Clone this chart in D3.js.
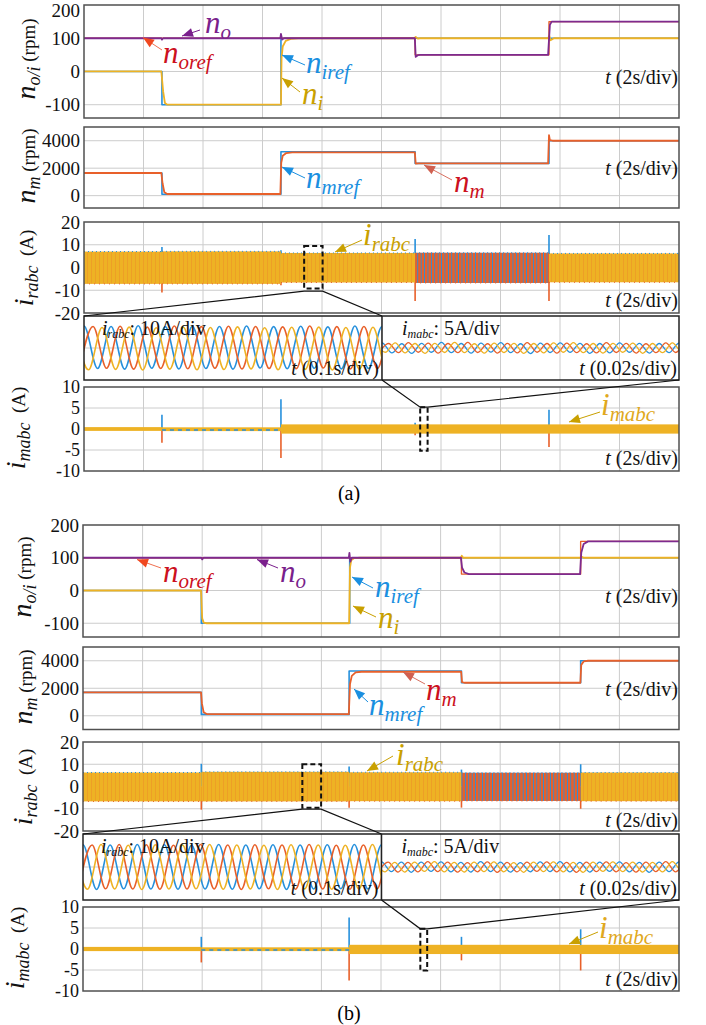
<!DOCTYPE html>
<html><head><meta charset="utf-8">
<script src="https://cdn.jsdelivr.net/npm/d3@7/dist/d3.min.js"></script>
<style>html,body{margin:0;padding:0;background:#fff}svg{display:block}
svg text{font-family:"Liberation Serif","Times New Roman","Nimbus Roman","DejaVu Serif","Noto Serif",serif}</style>
</head><body>
<svg id="chart" width="706" height="1025"></svg>
<script>
// ================= DATA =================
const tDomain=[0,20];
const tGrid=[2,4,6,8,10,12,14,16,18];
const speedTicks=[200,100,0,-100];
const motorTicks=[4000,2000,0];
const rotorTicks=[20,10,0,-10,-20];
const machTicks=[10,5,0,-5,-10];

// ---- (a) output / input speed (rpm) ----
const aNoRef=[[0,100],[11.13,100],[11.13,50],[15.63,50],[15.63,150],[20,150]];
const aNo=[[0,100],[2.6,100],[2.62,96],[2.66,100],[6.6,100],[6.62,113],[6.66,96],[6.72,100],[11.12,100],[11.15,44],[11.22,49],[11.3,50],[15.6,50],[15.66,140],[15.72,150],[20,150]];
const aNiRef=[[0,0],[2.62,0],[2.62,-100],[6.62,-100],[6.62,100],[20,100]];
const aNi=[[0,0],[2.6,0],[2.66,-60],[2.72,-95],[2.8,-100],[6.62,-100],[6.64,40],[6.68,75],[6.78,92],[6.95,98],[7.2,100],[11.1,100],[11.15,104],[11.22,99],[11.3,100],[15.6,100],[15.64,107],[15.68,94],[15.8,100],[20,100]];
// ---- (a) motor speed (rpm) ----
const aNmRef=[[0,1650],[2.62,1650],[2.62,100],[6.62,100],[6.62,3200],[11.13,3200],[11.13,2350],[15.63,2350],[15.63,4000],[20,4000]];
const aNm=[[0,1650],[2.6,1650],[2.64,900],[2.7,250],[2.8,120],[6.6,120],[6.63,2400],[6.68,2900],[6.8,3100],[7.0,3150],[11.12,3150],[11.15,2330],[11.25,2350],[15.6,2350],[15.63,4400],[15.66,4050],[15.75,4000],[20,4000]];
// ---- (a) rotor currents (A): [t0,t1,upper,lower] ----
const aIrEnv=[[0,2.62,7,-7.2],[2.62,6.62,7.1,-7.2],[6.62,11.13,6.4,-6.6],[15.63,20,6.2,-6.5]];
const aIrLow=[[11.13,15.63,6.5,-6.8]];
const aIrSpikes=[[2.62,9,-11],[6.62,7.6,-7.8],[11.13,12.5,-14.7],[15.63,14.3,-14.7]];
// ---- (a) machine currents (A) ----
const aImEnv=[[0,2.62,0.45,-0.45],[2.62,6.62,0.4,-0.5],[6.62,20,1.1,-1.1]];
const aImRipple=[[2.62,6.62,-0.25]];
const aImSpikes=[[2.62,3.4,-3.3],[6.62,7.1,-6.9],[11.13,1.5,-1.5],[15.63,4.6,-4.3]];

// ---- (b) ----
const bNoRef=[[0,100],[12.7,100],[12.7,50],[16.7,50],[16.7,150],[20,150]];
const bNo=[[0,100],[3.97,100],[4.0,95],[4.04,100],[8.92,100],[8.94,115],[8.97,88],[9.02,100],[12.68,100],[12.72,70],[12.8,55],[12.95,50],[16.68,50],[16.72,115],[16.8,142],[16.95,150],[20,150]];
const bNiRef=[[0,0],[3.97,0],[3.97,-100],[8.95,-100],[8.95,100],[20,100]];
const bNi=[[0,0],[3.96,0],[4.0,-85],[4.05,-98],[4.15,-100],[8.93,-100],[8.96,70],[9.0,92],[9.1,99],[9.3,100],[12.68,100],[12.71,106],[12.76,100],[16.68,100],[16.72,104],[16.8,100],[20,100]];
const bNmRef=[[0,1700],[3.97,1700],[3.97,100],[8.93,100],[8.93,3250],[12.7,3250],[12.7,2400],[16.7,2400],[16.7,4000],[20,4000]];
const bNm=[[0,1700],[3.96,1700],[3.99,900],[4.05,250],[4.15,120],[8.92,120],[8.96,2300],[9.02,2900],[9.15,3150],[9.35,3200],[12.69,3200],[12.72,2450],[12.8,2400],[16.69,2400],[16.72,3700],[16.8,3950],[16.95,4000],[20,4000]];
const bIrEnv=[[0,3.97,6.3,-6.7],[3.97,8.93,6.6,-6.7],[8.93,12.7,6.4,-6.6],[16.7,20,6.3,-6.6]];
const bIrLow=[[12.7,16.7,6.2,-6.5]];
const bIrSpikes=[[3.97,10.2,-10.4],[8.93,9,-9.5],[12.7,7.6,-9.5],[16.7,10,-10]];
const bImEnv=[[0,3.97,0.5,-0.5],[3.97,8.93,0.4,-0.5],[8.93,20,1.0,-1.2]];
const bImRipple=[[3.97,8.93,-0.25]];
const bImSpikes=[[3.97,2.9,-3.2],[8.93,7.5,-7.5],[12.7,2.9,-2.7],[16.7,4.7,-5.1]];

// ---- zoomed insets: successive half-cycle extrema (A) ----
const aLeftBlue=[-9.4,10.3,-9.6,10.1,-9.9,10.4,-9.5,10.0,-9.8,10.2,-9.6,10.1,-9.9,10.3,-9.4,10.0,-9.7,10.2,-9.5,9.9,-9.8,10.3,-9.6,10.1,-9.5];
const aLeftOrange=[-9.8,10.1,-9.5,10.2,-9.9,9.8,-9.6,10.3,-9.7,10.0,-9.5,10.2,-9.8,10.1,-9.6,9.9,-9.7,10.3,-9.4,10.0,-9.8,10.1,-9.6,10.2,-9.5];
const aLeftYellow=[9.9,-10.2,9.6,-10.0,9.8,-10.3,9.5,-9.9,9.7,-10.2,9.6,-10.1,9.9,-9.8,9.5,-10.2,9.7,-10.0,9.8,-10.3,9.6,-9.9,9.7,-10.1,9.5];
const aRightBlue=[-2.1,2.4,-2.3,2.0,-2.5,2.2,-2.0,2.6,-2.2,2.1,-2.4,2.3,-1.9,2.5,-2.2,2.0,-2.6,2.3,-2.1,2.4,-2.0,2.2,-2.5,2.1,-2.3,2.4,-2.0,2.2,-2.4,2.1,-2.2,2.3,-2.1];
const aRightOrange=[-2.3,2.1,-2.2,2.5,-2.0,2.3,-2.4,2.1,-2.2,2.6,-2.1,2.0,-2.4,2.2,-2.3,2.5,-2.0,2.1,-2.4,2.3,-2.2,2.0,-2.3,2.5,-2.1,2.2,-2.4,2.0,-2.2,2.4,-2.1,2.3,-2.2];
const aRightYellow=[2.2,-2.0,2.4,-2.3,2.1,-2.5,2.2,-2.1,2.6,-2.2,2.0,-2.4,2.3,-2.1,2.2,-2.5,2.1,-2.3,2.4,-2.0,2.5,-2.2,2.1,-2.4,2.2,-2.0,2.3,-2.5,2.1,-2.2,2.4,-2.1,2.2];
const bLeftBlue=[-10.0,10.1,-10.2,10.0,-9.9,10.2,-10.0,10.1,-10.1,9.9,-10.0,10.2,-10.1,10.0,-9.9,10.1,-10.2,10.0,-10.0,10.1,-9.9,10.2,-10.0,10.1,-10.0];
const bLeftOrange=[-10.1,10.0,-9.9,10.2,-10.0,10.1,-10.1,9.9,-10.0,10.2,-10.0,10.0,-10.2,10.1,-9.9,10.0,-10.1,10.2,-10.0,9.9,-10.1,10.0,-10.0,10.2,-9.9];
const bLeftYellow=[10.0,-10.1,10.2,-10.0,9.9,-10.2,10.1,-10.0,10.0,-9.9,10.2,-10.1,10.0,-10.0,9.9,-10.2,10.1,-10.0,10.0,-10.1,9.9,-10.0,10.2,-10.1,10.0];
const bRightBlue=[-2.2,2.3,-2.1,2.2,-2.4,2.2,-2.0,2.3,-2.2,2.1,-2.3,2.4,-2.1,2.2,-2.3,2.0,-2.2,2.3,-2.1,2.4,-2.2,2.1,-2.3,2.2,-2.0,2.3,-2.2,2.1,-2.4,2.2,-2.1,2.3,-2.2];
const bRightOrange=[-2.1,2.2,-2.3,2.1,-2.2,2.4,-2.1,2.2,-2.3,2.0,-2.2,2.3,-2.4,2.1,-2.2,2.2,-2.0,2.3,-2.2,2.1,-2.4,2.2,-2.1,2.3,-2.2,2.0,-2.3,2.2,-2.1,2.4,-2.2,2.1,-2.3];
const bRightYellow=[2.3,-2.2,2.1,-2.3,2.2,-2.0,2.4,-2.2,2.1,-2.3,2.2,-2.1,2.3,-2.2,2.0,-2.4,2.2,-2.1,2.3,-2.2,2.1,-2.4,2.2,-2.0,2.3,-2.1,2.2,-2.3,2.1,-2.2,2.4,-2.1,2.2];

// ================= STYLE / LAYOUT =================
const SERIF='"Liberation Serif","Times New Roman","Nimbus Roman","DejaVu Serif","Noto Serif",serif';
const COL={blue:"#2690dc",orange:"#e8602a",yellow:"#eeb224",purple:"#7e2a8e",grid:"#cccccc",frame:"#505050",
  tRed:"#cc1020",tBlue:"#1a8fe0",tGold:"#c9a000",tPurple:"#7a1f8c"};
const TLAB=20;
const svg=d3.select("#chart");
const defs=svg.append("defs");
let clipN=0;

const lf=defs.append("pattern").attr("id","lowfreq").attr("patternUnits","userSpaceOnUse").attr("width",3.4).attr("height",10);
lf.append("rect").attr("width",3.4).attr("height",10).attr("fill",COL.orange);
lf.append("rect").attr("x",2.5).attr("width",0.9).attr("height",10).attr("fill",COL.blue);
const bp=defs.append("pattern").attr("id","band").attr("patternUnits","userSpaceOnUse").attr("width",4).attr("height",10);
bp.append("rect").attr("width",4).attr("height",10).attr("fill",COL.yellow);
bp.append("rect").attr("x",3).attr("width",0.7).attr("height",10).attr("fill",COL.orange).attr("opacity",0.35);

function setFont(sel,size){ sel.style("font-family",SERIF).attr("font-size",size); return sel; }

function panel(p){
  const x=d3.scaleLinear().domain(tDomain).range([p.left,p.right]);
  const y=d3.scaleLinear().domain(p.domain).range([p.bottom,p.top]);
  const g=svg.append("g");
  const id="clip"+(clipN++);
  defs.append("clipPath").attr("id",id).append("rect").attr("x",p.left).attr("y",p.top)
    .attr("width",p.right-p.left).attr("height",p.bottom-p.top);
  g.append("g").selectAll("line").data(tGrid).join("line")
    .attr("x1",d=>x(d)).attr("x2",d=>x(d)).attr("y1",p.top).attr("y2",p.bottom)
    .attr("stroke",COL.grid).attr("stroke-width",1);
  g.append("g").selectAll("line").data(p.ticks.filter(v=>y(v)>p.top+2&&y(v)<p.bottom-2)).join("line")
    .attr("x1",p.left).attr("x2",p.right).attr("y1",d=>y(d)).attr("y2",d=>y(d))
    .attr("stroke",COL.grid).attr("stroke-width",1);
  const dg=g.append("g").attr("clip-path",`url(#${id})`);
  g.append("rect").attr("x",p.left).attr("y",p.top).attr("width",p.right-p.left).attr("height",p.bottom-p.top)
    .attr("fill","none").attr("stroke",COL.frame).attr("stroke-width",1.5);
  const ax=g.append("g").attr("transform",`translate(${p.left},0)`)
    .call(d3.axisLeft(y).tickValues(p.ticks).tickSize(0).tickPadding(4).tickFormat(d=>String(d)));
  ax.select(".domain").remove();
  ax.attr("font-family",null).attr("font-size",null);
  setFont(ax.selectAll("text"),p.tickSize||19).attr("fill","#111").attr("dy",d=>y(d)<12?"0.62em":"0.32em");
  const tt=setFont(g.append("text"),TLAB).attr("x",p.right-1).attr("y",p.tY).attr("text-anchor","end").attr("fill","#111");
  tt.append("tspan").attr("font-style","italic").text("t");
  tt.append("tspan").text("\u00a0(2s/div)");
  const yl=setFont(g.append("text"),19).attr("transform",`translate(${p.yLab[0]},${p.yLab[1]}) rotate(-90)`)
    .attr("text-anchor","middle").attr("fill","#111");
  yl.append("tspan").attr("font-style","italic").attr("font-size",28).text(p.yMain);
  yl.append("tspan").attr("font-style","italic").attr("font-size",18).attr("dy",5).text(p.ySub);
  yl.append("tspan").attr("font-size",19).attr("dy",-5).text(p.yRest);
  return {x,y,g,dg,p};
}
function line(P,data,color,w){
  P.dg.append("path").datum(data).attr("fill","none").attr("stroke",color).attr("stroke-width",w||1.6)
    .attr("stroke-linejoin","round")
    .attr("d",d3.line().x(d=>P.x(d[0])).y(d=>P.y(d[1])));
}
function bands(P,env,fill){
  P.dg.selectAll(null).data(env).join("rect")
    .attr("x",d=>P.x(d[0])).attr("width",d=>P.x(d[1])-P.x(d[0]))
    .attr("y",d=>P.y(d[2])).attr("height",d=>P.y(d[3])-P.y(d[2])).attr("fill",fill);
}
function bandEdges(P,env){
  P.dg.selectAll(null).data(env).join("line")
    .attr("x1",d=>P.x(d[0])).attr("x2",d=>P.x(d[1])).attr("y1",d=>P.y(d[2])).attr("y2",d=>P.y(d[2]))
    .attr("stroke",COL.blue).attr("stroke-width",1).attr("stroke-dasharray","1,3");
  P.dg.selectAll(null).data(env).join("line")
    .attr("x1",d=>P.x(d[0])).attr("x2",d=>P.x(d[1])).attr("y1",d=>P.y(d[3])).attr("y2",d=>P.y(d[3]))
    .attr("stroke",COL.orange).attr("stroke-width",1).attr("stroke-dasharray","1,4");
}
function spikes(P,sp){
  P.dg.selectAll(null).data(sp).join("line")
    .attr("x1",d=>P.x(d[0])).attr("x2",d=>P.x(d[0])).attr("y1",d=>P.y(0)).attr("y2",d=>P.y(d[1]))
    .attr("stroke",COL.blue).attr("stroke-width",1.6);
  P.dg.selectAll(null).data(sp).join("line")
    .attr("x1",d=>P.x(d[0])).attr("x2",d=>P.x(d[0])).attr("y1",d=>P.y(0)).attr("y2",d=>P.y(d[2]))
    .attr("stroke",COL.orange).attr("stroke-width",1.6);
}
function ripple(P,rp){
  P.dg.selectAll(null).data(rp).join("line")
    .attr("x1",d=>P.x(d[0])).attr("x2",d=>P.x(d[1])).attr("y1",d=>P.y(d[2])).attr("y2",d=>P.y(d[2]))
    .attr("stroke",COL.blue).attr("stroke-width",1.6).attr("stroke-dasharray","4,4");
}
function rich(x,y,main,sub,color,opt){
  opt=opt||{};
  const t=setFont(svg.append("text"),opt.ms||31).attr("x",x).attr("y",y).attr("fill",color);
  t.append("tspan").attr("font-style","italic").attr("font-size",opt.ms||31).text(main);
  t.append("tspan").attr("font-style","italic").attr("font-size",opt.ss||21).attr("dy",opt.dy||6).text(sub);
  if(opt.rest) t.append("tspan").attr("font-style","normal").attr("font-size",opt.rs||20).attr("dy",-(opt.dy||6)).text(opt.rest);
  return t;
}
function arrow(x1,y1,x2,y2,lc,hc){
  svg.append("line").attr("x1",x1).attr("y1",y1).attr("x2",x2).attr("y2",y2).attr("stroke",lc).attr("stroke-width",1);
  const a=Math.atan2(y2-y1,x2-x1),L=11,Wd=4.5;
  const bx=x2-L*Math.cos(a),by=y2-L*Math.sin(a);
  svg.append("path").attr("d",`M${x2},${y2}L${bx+Wd*Math.sin(a)},${by-Wd*Math.cos(a)}L${bx-Wd*Math.sin(a)},${by+Wd*Math.cos(a)}Z`).attr("fill",hc||lc);
}
function inset(c,xMain,lw,rw,lN,rN){
  const y=d3.scaleLinear().domain([-15,15]).range([c.bottom,c.top]);
  const g=svg.append("g");
  g.selectAll(null).data(tGrid).join("line").attr("x1",d=>xMain(d)).attr("x2",d=>xMain(d))
    .attr("y1",c.top).attr("y2",c.bottom).attr("stroke",COL.grid);
  g.append("line").attr("x1",c.left).attr("x2",c.right).attr("y1",y(0)).attr("y2",y(0)).attr("stroke",COL.grid);
  const mk=(x0,x1,n,waves,w)=>{
    const id="clip"+(clipN++);
    defs.append("clipPath").attr("id",id).append("rect").attr("x",x0).attr("y",c.top).attr("width",x1-x0).attr("height",c.bottom-c.top);
    const xs=d3.scaleLinear().domain([0,n]).range([x0,x1]);
    const dg=g.append("g").attr("clip-path",`url(#${id})`);
    const offs=[0,2/3,1/3], cols=[COL.blue,COL.orange,COL.yellow];
    waves.forEach((vals,i)=>{
      const pts=vals.map((v,k)=>[k-1+offs[i],v]);
      dg.append("path").datum(pts).attr("fill","none").attr("stroke",cols[i]).attr("stroke-width",w)
        .attr("d",d3.line().x(d=>xs(d[0])).y(d=>y(d[1])).curve(d3.curveMonotoneX));
    });
  };
  mk(c.left,c.mid,lN,lw,1.6);
  mk(c.mid,c.right,rN,rw,1.3);
  g.append("rect").attr("x",c.left).attr("y",c.top).attr("width",c.right-c.left).attr("height",c.bottom-c.top)
    .attr("fill","none").attr("stroke","#222").attr("stroke-width",1.5);
  g.append("line").attr("x1",c.mid).attr("x2",c.mid).attr("y1",c.top).attr("y2",c.bottom).attr("stroke","#222").attr("stroke-width",1.5);
  rich(c.left+18,c.top+19,"i","rabc","#111",{ms:20,ss:12,dy:3,rest:": 10A/div",rs:20});
  rich(c.mid+20,c.top+19,"i","mabc","#111",{ms:20,ss:12,dy:3,rest:": 5A/div",rs:20});
  [[c.mid-3,"\u00a0(0.1s/div)"],[c.right-2,"\u00a0(0.02s/div)"]].forEach(([xx,s])=>{
    const t=setFont(svg.append("text"),20).attr("x",xx).attr("y",c.bottom-5).attr("text-anchor","end").attr("fill","#111");
    t.append("tspan").attr("font-style","italic").text("t");
    t.append("tspan").text(s);
  });
}
function dashBox(P,t0,t1,hi,lo){
  svg.append("rect").attr("x",P.x(t0)).attr("y",P.y(hi)).attr("width",P.x(t1)-P.x(t0)).attr("height",P.y(lo)-P.y(hi))
    .attr("fill","none").attr("stroke","#111").attr("stroke-width",2).attr("stroke-dasharray","5,3");
}
function poly(pts){
  svg.append("polyline").attr("points",pts.map(p=>p.join(",")).join(" ")).attr("fill","none").attr("stroke","#111").attr("stroke-width",1.2);
}

// ================= FIGURE (a) =================
const aL=84,aR=679;
const A1=panel({left:aL,right:aR,top:5,bottom:118,domain:[-140,200],ticks:speedTicks,tY:84,yLab:[35,59],yMain:"n",ySub:"o/i",yRest:"\u00a0(rpm)"});
line(A1,aNiRef,COL.blue,1.6); line(A1,aNi,COL.yellow,1.8);
line(A1,aNoRef,COL.orange,1.4); line(A1,aNo,COL.purple,1.8);
const A2=panel({left:aL,right:aR,top:127,bottom:208,domain:[-900,5000],ticks:motorTicks,tY:175,yLab:[35,166],yMain:"n",ySub:"m",yRest:"\u00a0(rpm)"});
line(A2,aNmRef,COL.blue,1.6); line(A2,aNm,COL.orange,1.8);
const A3=panel({left:aL,right:aR,top:222,bottom:313,domain:[-20,20],ticks:rotorTicks,tY:307,yLab:[33,268],yMain:"i",ySub:"rabc",yRest:"\u00a0\u00a0(A)"});
spikes(A3,aIrSpikes); bands(A3,aIrEnv,"url(#band)"); bands(A3,aIrLow,"url(#lowfreq)"); bandEdges(A3,aIrEnv.concat(aIrLow));
const A4=panel({left:aL,right:aR,top:387,bottom:471,domain:[-10,10],ticks:machTicks,tickSize:18,tY:465,yLab:[25,428],yMain:"i",ySub:"mabc",yRest:"\u00a0\u00a0(A)"});
spikes(A4,aImSpikes); bands(A4,aImEnv,COL.yellow); ripple(A4,aImRipple);
inset({top:316,bottom:380,left:aL,mid:382,right:aR},A3.x,[aLeftBlue,aLeftOrange,aLeftYellow],[aRightBlue,aRightOrange,aRightYellow],22,30);
dashBox(A3,7.4,8.02,9.5,-9.2);
poly([[aL,316],[A3.x(7.4),A3.y(-10.4)],[A3.x(8.02),A3.y(-10.4)],[382,316]]);
dashBox(A4,11.3,11.55,5.2,-5.2);
poly([[382,380],[A4.x(11.3),A4.y(5.2)],[A4.x(11.55),A4.y(5.2)],[aR,380]]);
arrow(200,30,182,36,COL.tPurple); rich(205,33,"n","o",COL.tPurple);
arrow(162,50,143,37.5,"#f07050","#f04820"); rich(163,63,"n","oref",COL.tRed);
arrow(305,65,282,55,COL.tBlue); rich(306,73,"n","iref",COL.tBlue);
arrow(300,92,282,78,COL.tGold); rich(302,104,"n","i",COL.tGold);
arrow(305,178,282,167,COL.tBlue); rich(306,188,"n","mref",COL.tBlue);
arrow(452,180,424,165,"#d87060","#d06050"); rich(454,192,"n","m",COL.tRed);
arrow(362,240,335,252,COL.tGold); rich(363,245,"i","rabc",COL.tGold);
arrow(600,412,569,422,COL.tGold); rich(601,415,"i","mabc","#e0a820");
setFont(svg.append("text"),20).attr("x",349).attr("y",500).attr("text-anchor","middle").text("(a)");

// ================= FIGURE (b) =================
const bL=83,bR=679;
const B1=panel({left:bL,right:bR,top:525,bottom:637,domain:[-142,200],ticks:speedTicks,tY:603,yLab:[31,577],yMain:"n",ySub:"o/i",yRest:"\u00a0(rpm)"});
line(B1,bNiRef,COL.blue,1.6); line(B1,bNi,COL.yellow,1.8);
line(B1,bNoRef,COL.orange,1.4); line(B1,bNo,COL.purple,1.8);
const B2=panel({left:bL,right:bR,top:647,bottom:729.5,domain:[-1000,5000],ticks:motorTicks,tY:696,yLab:[32,687],yMain:"n",ySub:"m",yRest:"\u00a0(rpm)"});
line(B2,bNmRef,COL.blue,1.6); line(B2,bNm,COL.orange,1.8);
const B3=panel({left:bL,right:bR,top:742,bottom:831,domain:[-20,20],ticks:rotorTicks,tY:827,yLab:[32,787],yMain:"i",ySub:"rabc",yRest:"\u00a0\u00a0(A)"});
spikes(B3,bIrSpikes); bands(B3,bIrEnv,"url(#band)"); bands(B3,bIrLow,"url(#lowfreq)"); bandEdges(B3,bIrEnv.concat(bIrLow));
const B4=panel({left:bL,right:bR,top:907,bottom:991,domain:[-10,10],ticks:machTicks,tickSize:18,tY:986,yLab:[24,948],yMain:"i",ySub:"mabc",yRest:"\u00a0\u00a0(A)"});
spikes(B4,bImSpikes); bands(B4,bImEnv,COL.yellow); ripple(B4,bImRipple);
inset({top:834,bottom:900,left:bL,mid:381.5,right:bR},B3.x,[bLeftBlue,bLeftOrange,bLeftYellow],[bRightBlue,bRightOrange,bRightYellow],22,30);
dashBox(B3,7.36,7.99,10,-9.6);
poly([[bL,834],[B3.x(7.36),B3.y(-10.2)],[B3.x(7.99),B3.y(-10.2)],[381.5,834]]);
dashBox(B4,11.32,11.55,4.8,-5.1);
poly([[381.5,900],[B4.x(11.32),B4.y(4.8)],[B4.x(11.55),B4.y(4.8)],[bR,900]]);
arrow(161,568,137,559.5,"#f07050","#f04820"); rich(163,582,"n","oref",COL.tRed);
arrow(278,568,257,559.5,COL.tPurple); rich(280,582,"n","o",COL.tPurple);
arrow(373,588,352,577,COL.tBlue); rich(375,597,"n","iref",COL.tBlue);
arrow(376,617,353,606,COL.tGold); rich(378,628,"n","i",COL.tGold);
arrow(425,684,403,672,"#d87060","#d06050"); rich(426,700,"n","m",COL.tRed);
arrow(368,702,354,689,COL.tBlue); rich(369,715,"n","mref",COL.tBlue);
arrow(393,756,367,771,COL.tGold); rich(396,765,"i","rabc",COL.tGold);
arrow(598,932,569,944,COL.tGold); rich(599,938,"i","mabc","#e0a820");
setFont(svg.append("text"),20).attr("x",349).attr("y",1020).attr("text-anchor","middle").text("(b)");
</script></body></html>
